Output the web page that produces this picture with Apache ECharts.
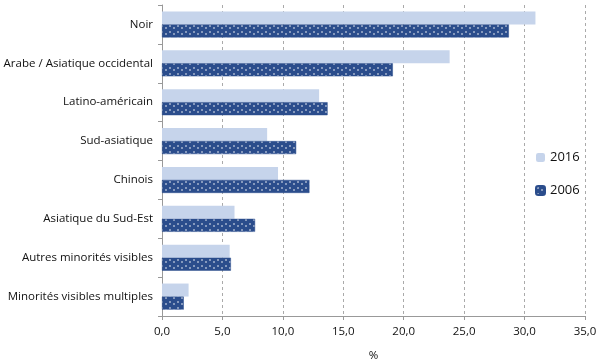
<!DOCTYPE html>
<html><head><meta charset="utf-8">
<script src="https://cdn.jsdelivr.net/npm/echarts@6/dist/echarts.min.js"></script>
<style>html,body{margin:0;padding:0;background:#fff}#c{width:600px;height:360px}</style>
</head><body><div id="c"></div>
<script>
const categories = ["Noir","Arabe / Asiatique occidental","Latino-américain","Sud-asiatique","Chinois","Asiatique du Sud-Est","Autres minorités visibles","Minorités visibles multiples"];
const values2016 = [30.9, 23.8, 13.0, 8.7, 9.6, 6.0, 5.6, 2.2];
const values2006 = [28.7, 19.1, 13.7, 11.1, 12.2, 7.7, 5.7, 1.8];
const seriesNames = ["2016", "2006"];

function makePattern(){
  const c = document.createElement('canvas');
  c.width = 8; c.height = 6;
  const g = c.getContext('2d');
  g.fillStyle = '#2B4D8C'; g.fillRect(0,0,8,6);
  g.strokeStyle = 'rgba(255,255,255,0.85)'; g.lineWidth = 1;
  g.beginPath(); g.moveTo(1.5,1); g.lineTo(2.5,2); g.lineTo(1.5,3); g.stroke();
  g.beginPath(); g.moveTo(6.5,3); g.lineTo(5.5,4); g.lineTo(6.5,5); g.stroke();
  return c;
}
const chart = echarts.init(document.getElementById('c'), null, {renderer:'canvas'});
const font = "'Open Sans', sans-serif";
chart.setOption({
  animation:false,
  textStyle:{fontFamily:font},
  grid:{left:162, right:15, top:5, bottom:44, containLabel:false, outerBoundsMode:'none'},
  legend:{orient:'vertical', left:530, top:146, itemGap:20, itemWidth:9, itemHeight:9,
    textStyle:{fontSize:13, color:'#111', fontFamily:font},
    data:seriesNames},
  xAxis:{type:'value', min:0, max:35, interval:5, name:'%', nameLocation:'middle', nameGap:34,
    nameTextStyle:{fontSize:11.5, color:'#111'},
    axisLabel:{formatter:v=>v.toFixed(1).replace('.',','), fontSize:11.5, color:'#111', margin:10},
    axisLine:{show:true, lineStyle:{color:'#999'}},
    axisTick:{show:true, length:4, lineStyle:{color:'#999'}},
    splitLine:{show:true, lineStyle:{color:'#aaa', type:[3,3]}}},
  yAxis:{type:'category', inverse:true, data:categories,
    axisLabel:{fontSize:11.5, color:'#111', margin:9},
    axisLine:{show:true, lineStyle:{color:'#999'}},
    axisTick:{show:true, length:4, lineStyle:{color:'#999'}}},
  series:[
    {name:seriesNames[0], type:'bar', data:values2016, barGap:'0%', barCategoryGap:'33%',
      itemStyle:{color:'#C6D4EB'}},
    {name:seriesNames[1], type:'bar', data:values2006, barGap:'0%', barCategoryGap:'33%',
      itemStyle:{color:{image:makePattern(), repeat:'repeat'}, borderColor:'#2B4D8C', borderWidth:0.5}}
  ]
});
</script></body></html>
